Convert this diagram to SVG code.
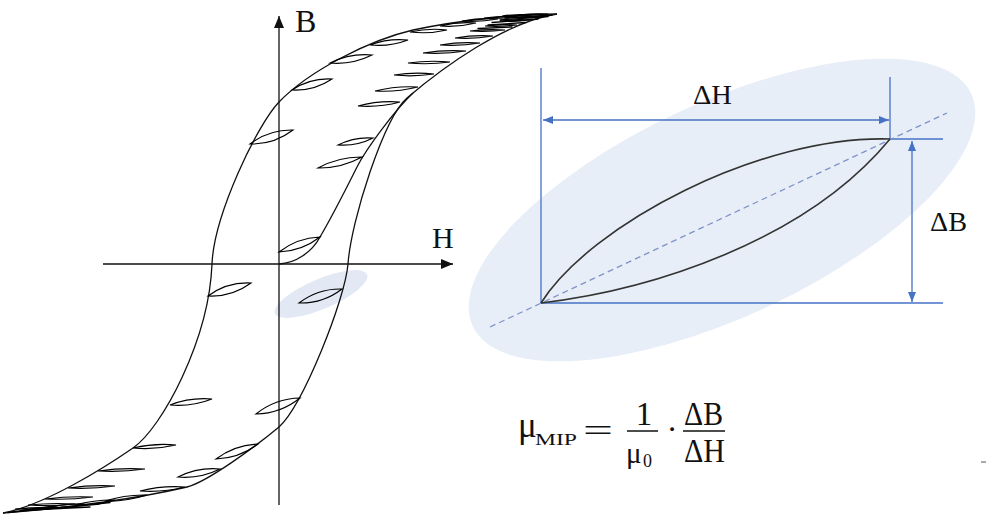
<svg xmlns="http://www.w3.org/2000/svg" width="986" height="520" viewBox="0 0 986 520">
<style>
.curve{fill:none;stroke:#111;stroke-width:1.3;stroke-linejoin:round}
.lens{fill:none;stroke:#000;stroke-width:1.15}
.fill{fill:none;stroke:#000;stroke-width:1.3;stroke-linecap:round}
.axis{fill:none;stroke:#111;stroke-width:1.3}
.dim{fill:none;stroke:#4472c4;stroke-width:1.3}
.detail{fill:none;stroke:#333;stroke-width:1.6}
.serif{font-family:"Liberation Serif","Times New Roman",serif;fill:#111}
</style>
<defs>
<marker id="ah" markerUnits="userSpaceOnUse" markerWidth="12" markerHeight="10" refX="12" refY="5" orient="auto"><path d="M0,0 L12,5 L0,10 z" fill="#111"/></marker>
<marker id="bh" markerUnits="userSpaceOnUse" markerWidth="10" markerHeight="8" refX="10" refY="4" orient="auto-start-reverse"><path d="M0,0 L10,4 L0,8 z" fill="#4472c4"/></marker>
</defs>
<rect width="986" height="520" fill="#fff"/>

<g id="highlight-small">
<ellipse cx="321" cy="294" rx="50" ry="15" transform="rotate(-23 321 294)" fill="#e2e8f4"/>
</g>
<g id="highlight-large">
<ellipse cx="722" cy="210" rx="275" ry="107" transform="rotate(-25 722 210)" fill="#e8eef8"/>
</g>

<g id="connectors">
<path class="axis" d="M279,505 V16" marker-end="url(#ah)"/>
<path class="axis" d="M103,264 H453" marker-end="url(#ah)"/>
<path class="dim" d="M541,68 V303"/>
<path class="dim" d="M890,77 V139"/>
<path class="dim" d="M890,139 H943"/>
<path class="dim" d="M541,303 H943"/>
<path class="dim" d="M543,120 H889" marker-start="url(#bh)" marker-end="url(#bh)"/>
<path class="dim" d="M912,141 V302" marker-start="url(#bh)" marker-end="url(#bh)"/>
<path d="M490,327 L947,113" fill="none" stroke="#7f93c8" stroke-width="1.3" stroke-dasharray="6 4"/>
</g>

<g id="hysteresis-loop">
<path class="curve" d="M557,14 C520,14 460,20 413,30 C370,40 310,70 279,102 C257,125 214,215 212,264 C209,340 162,428 133,448 C104,468 45,505 3,513"/>
<path class="curve" d="M3,513 C70,508 140,498 187,487 C207,482 255,447 279,427 C303,405 345,300 348,264 C351,220 384,118 407,98 C442,68 505,22 557,14"/>
<path class="curve" d="M279,264 C296,263 312,252 320,237 C330,220 348,185 357,167 C366,149 395,110 413,93"/>
</g>

<g id="minor-loops">
<path class="lens" d="M250,144q24,0.6 43,-14q-24,-0.6 -43,14z"/>
<path class="lens" d="M292,90q21.9,1.2 40,-11q-21.9,-1.2 -40,11z"/>
<path class="lens" d="M330,63q22.1,1.9 42,-8q-22.1,-1.9 -42,8z"/>
<path class="lens" d="M370,45q19.6,2 38,-5q-19.6,-2 -38,5z"/>
<path class="lens" d="M410,32q18.7,2.2 37,-2q-18.7,-2.2 -37,2z"/>
<path class="lens" d="M440,26q17.8,1.5 36,-3q-17.8,-1.5 -36,3z"/>
<path class="lens" d="M462,21q17.6,1.2 36,-2q-17.6,-1.2 -36,2z"/>
<path class="lens" d="M484,18q15.5,1 33,-1.5q-15.5,-1 -33,1.5z"/>
<path class="lens" d="M502,16q13.5,1 30,-1q-13.5,-1 -30,1z"/>
<path class="lens" d="M518,15q13.5,0.8 30,-1q-13.5,-0.8 -30,1z"/>

<path class="lens" d="M362,157q-23.4,-0.3 -44,11q23.4,0.3 44,-11z"/>
<path class="lens" d="M373,138q-18.5,-1.4 -35,7q18.5,1.4 35,-7z"/>
<path class="lens" d="M400,102q-21.4,-1.6 -42,4q21.4,1.6 42,-4z"/>
<path class="lens" d="M418,87q-21.8,-1.3 -43,4q21.8,1.3 43,-4z"/>
<path class="lens" d="M434,74q-20,-2 -40,1q20,2 40,-1z"/>
<path class="lens" d="M450,62q-21,-1.8 -42,1q21,1.8 42,-1z"/>
<path class="lens" d="M466,51q-21.6,-1.4 -43,2q21.6,1.4 43,-2z"/>
<path class="lens" d="M480,43q-20,-1.4 -40,2q20,1.4 40,-2z"/>
<path class="lens" d="M493,36q-19,-1.2 -38,2q19,1.2 38,-2z"/>
<path class="lens" d="M505,30q-17.5,-1.2 -35,1q17.5,1.2 35,-1z"/>
<path class="lens" d="M517,25q-16,-1 -32,1q16,1 32,-1z"/>
<path class="lens" d="M530,20q-15,-1 -30,1q15,1 30,-1z"/>
<path class="lens" d="M542,17q-13.5,-0.8 -27,0.5q13.5,0.8 27,-0.5z"/>
<path class="fill" d="M552,15 L505,18 M548,16.5 L500,20 M538,19 L492,22.5 M526,22.5 L488,25 M512,27 L478,28.5"/>

<path class="lens" d="M320,237q-22.9,0.9 -41,15q22.9,-0.9 41,-15z"/>

<path class="lens" d="M208,296q23.8,1.2 43,-13q-23.8,-1.2 -43,13z"/>
<path class="lens" d="M170,405q21.7,1.9 42,-6q-21.7,-1.9 -42,6z"/>
<path class="lens" d="M133,448q21.8,2 43,-3q-21.8,-2 -43,3z"/>
<path class="lens" d="M98,471q23.6,1.4 47,-2q-23.6,-1.4 -47,2z"/>
<path class="lens" d="M68,488q23.6,1.2 47,-2q-23.6,-1.2 -47,2z"/>
<path class="lens" d="M45,499q24,1.1 48,-2q-24,-1.1 -48,2z"/>
<path class="lens" d="M28,505q23.5,1.4 47,-1q-23.5,-1.4 -47,1z"/>
<path class="lens" d="M15,509q22.5,1.2 45,-1q-22.5,-1.2 -45,1z"/>

<path class="lens" d="M342,289q-24,-0.6 -43,14q24,0.6 43,-14z"/>
<path class="lens" d="M300,398q-24.7,0.5 -44,16q24.7,-0.5 44,-16z"/>
<path class="lens" d="M258,444q-23.4,0.9 -42,15q23.4,-0.9 42,-15z"/>
<path class="lens" d="M220,469q-22.1,-1.9 -42,8q22.1,1.9 42,-8z"/>
<path class="lens" d="M185,487q-22.9,-1.6 -45,4q22.9,1.6 45,-4z"/>
<path class="lens" d="M147,495q-21.5,-0.6 -42,6q21.5,0.6 42,-6z"/>
<path class="lens" d="M115,500q-20.2,-0.3 -40,5q20.2,0.3 40,-5z"/>
<path class="lens" d="M85,504q-20,-0.5 -40,4q20,0.5 40,-4z"/>
<path class="lens" d="M58,507q-16.5,-0.8 -33,3q16.5,0.8 33,-3z"/>
<path class="fill" d="M8,512.5 L55,506 M12,512 L70,506.5 M22,510.5 L90,507 M38,509.5 L100,504 M55,508.5 L110,502.5"/>
</g>

<g id="axis-labels">
<text class="serif" x="295" y="32" font-size="32">B</text>
<text class="serif" x="432" y="248" font-size="30">H</text>
</g>

<g id="minor-loop-detail">
<path class="detail" d="M541,303 C590,225 760,135 890,139"/>
<path class="detail" d="M541,303 C650,290 805,242 890,139"/>
<text class="serif" x="693" y="104" font-size="27" textLength="39" lengthAdjust="spacingAndGlyphs">ΔH</text>
<text class="serif" x="930" y="231" font-size="27" textLength="37" lengthAdjust="spacingAndGlyphs">ΔB</text>
</g>

<g id="formula">
<text class="serif" x="518" y="437" font-size="35">μ</text>
<text class="serif" x="535" y="445" font-size="17" textLength="42" lengthAdjust="spacingAndGlyphs">MIP</text>
<text class="serif" x="583" y="441" font-size="32" textLength="30" lengthAdjust="spacingAndGlyphs">=</text>
<text class="serif" x="644" y="425" font-size="33" text-anchor="middle">1</text>
<line x1="627" y1="431" x2="658" y2="431" stroke="#111" stroke-width="1.5"/>
<text class="serif" x="626" y="463" font-size="29">μ</text>
<text class="serif" x="643" y="467" font-size="18">0</text>
<text class="serif" x="672" y="440" font-size="32" text-anchor="middle">·</text>
<text class="serif" x="684" y="425" font-size="33" textLength="39" lengthAdjust="spacingAndGlyphs">ΔB</text>
<line x1="683" y1="431" x2="725" y2="431" stroke="#111" stroke-width="1.5"/>
<text class="serif" x="684" y="462" font-size="33" textLength="41" lengthAdjust="spacingAndGlyphs">ΔH</text>
</g>
<line x1="981" y1="462" x2="986" y2="462" stroke="#555" stroke-width="1"/>
</svg>
